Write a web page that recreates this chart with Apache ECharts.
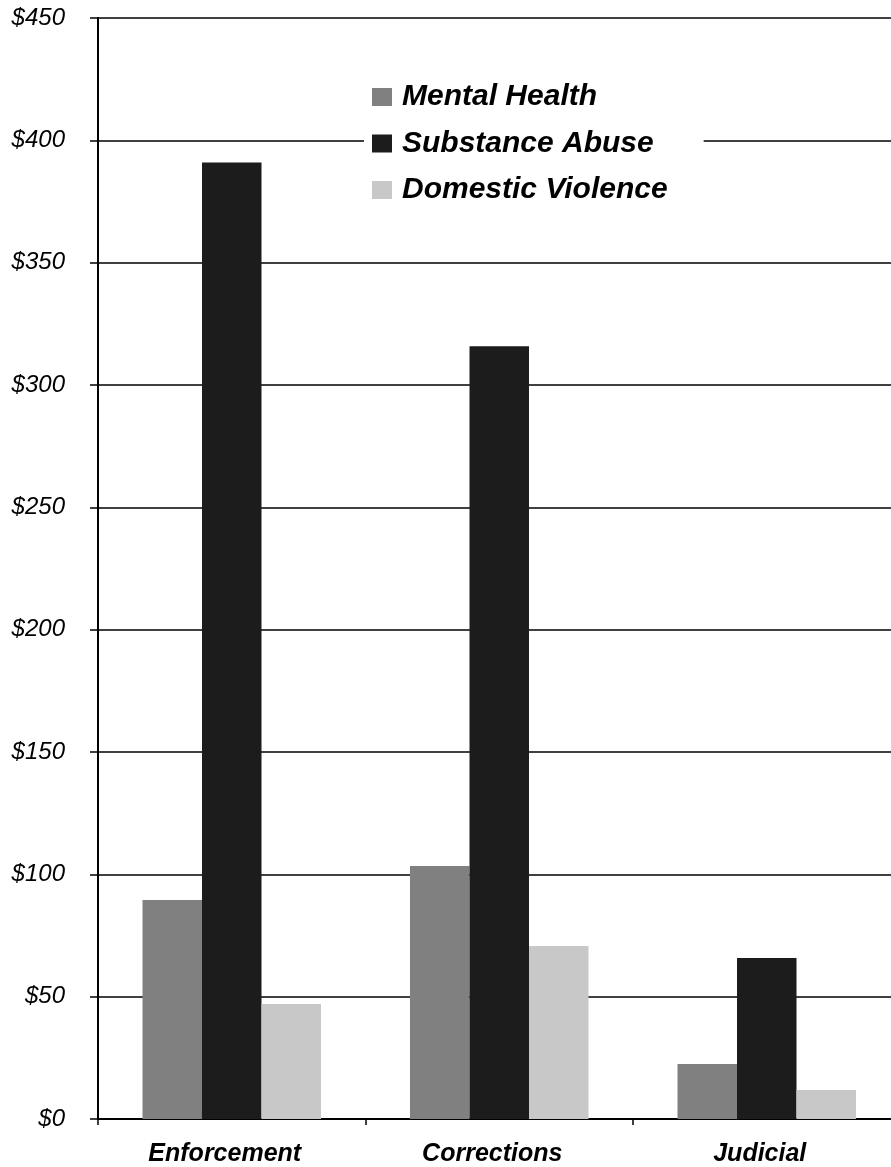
<!DOCTYPE html>
<html>
<head>
<meta charset="utf-8">
<script src="https://cdn.jsdelivr.net/npm/echarts@6/dist/echarts.min.js"></script>
<style>html,body{margin:0;padding:0;background:#fff;}#c{width:891px;height:1167px;}</style>
</head>
<body>
<div id="c"></div>
<script>
const categories = ['Enforcement', 'Corrections', 'Judicial'];
const mentalHealth = [89.5, 103.4, 22.5];
const substanceAbuse = [390.9, 315.8, 65.8];
const domesticViolence = [47, 70.7, 11.9];
const seriesNames = ['Mental Health', 'Substance Abuse', 'Domestic Violence'];

const chart = echarts.init(document.getElementById('c'));
const boldFont = { fontFamily: 'Liberation Sans', fontStyle: 'italic', fontWeight: 'bold', color: '#000' };
chart.setOption({
  animation: false,
  backgroundColor: '#fff',
  grid: { left: 98, top: 18, height: 1101, width: 802.5, containLabel: false, outerBoundsMode: 'none' },
  legend: {
    orient: 'vertical',
    left: 364, top: 72,
    backgroundColor: '#fff',
    padding: [10, 36, 10, 8],
    itemWidth: 20, itemHeight: 18, itemGap: 16.5,
    icon: 'rect',
    textStyle: Object.assign({ fontSize: 30, lineHeight: 30, padding: [0, 0, 0, 5] }, boldFont),
    data: seriesNames
  },
  xAxis: {
    type: 'category',
    data: categories,
    axisLine: { lineStyle: { color: '#000', width: 2 } },
    axisTick: { show: true, length: 6, lineStyle: { color: '#000', width: 1.5 } },
    axisLabel: Object.assign({ fontSize: 25, margin: 23, padding: [0, 14, 0, 0] }, boldFont)
  },
  yAxis: {
    type: 'value',
    min: 0, max: 450, interval: 50,
    axisLine: { show: true, lineStyle: { color: '#000', width: 2 } },
    axisTick: { show: true, length: 8, lineStyle: { color: '#000', width: 1.5 } },
    splitLine: { show: true, lineStyle: { color: '#000', width: 1.5 } },
    axisLabel: { fontFamily: 'Liberation Sans', fontStyle: 'italic', fontSize: 24, color: '#000', margin: 33, formatter: v => '$' + v }
  },
  series: [
    { name: seriesNames[0], type: 'bar', data: mentalHealth, barWidth: 59.5, barGap: '0%', itemStyle: { color: '#808080' } },
    { name: seriesNames[1], type: 'bar', data: substanceAbuse, barWidth: 59.5, barGap: '0%', itemStyle: { color: '#1c1c1c' } },
    { name: seriesNames[2], type: 'bar', data: domesticViolence, barWidth: 59.5, barGap: '0%', itemStyle: { color: '#c8c8c8' } }
  ]
});
</script>
</body>
</html>
